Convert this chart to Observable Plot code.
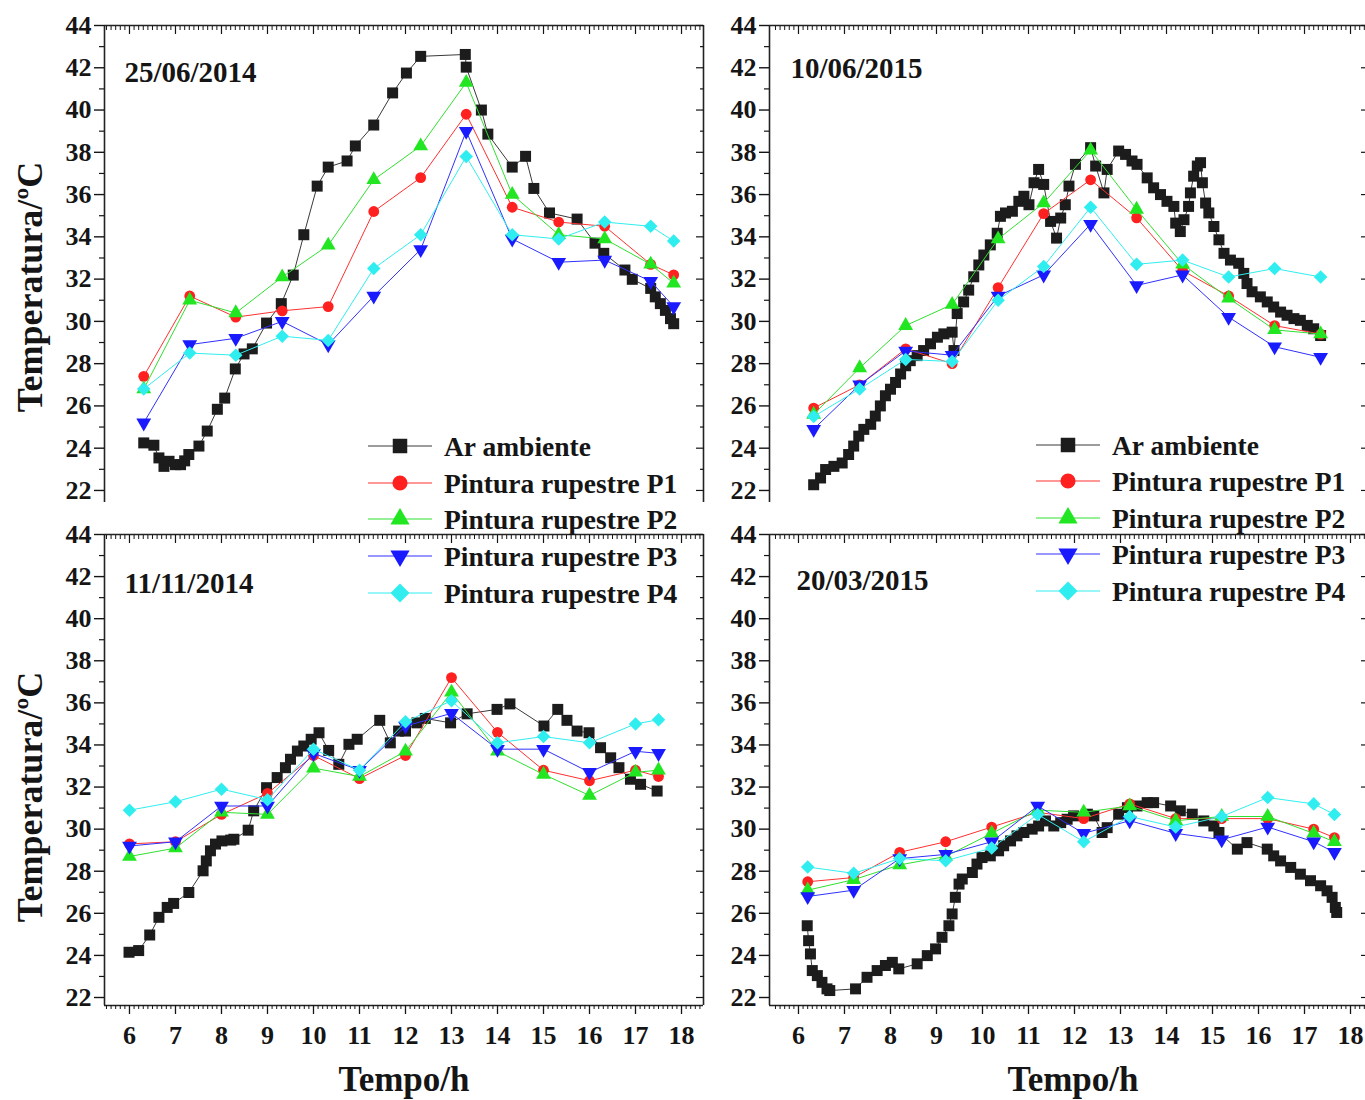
<!DOCTYPE html>
<html><head><meta charset="utf-8">
<script src="https://cdn.jsdelivr.net/npm/d3@7"></script>
<script src="https://cdn.jsdelivr.net/npm/@observablehq/plot@0.6"></script>
<style>
html,body{margin:0;padding:0;background:#fff}
#page{position:relative;width:1365px;height:1100px;overflow:hidden;background:#fff}
#page svg{position:absolute}
</style></head><body><div id="page"></div>
<script>
// ---------- DATA ----------
const seriesNames = ["Ar ambiente", "Pintura rupestre P1", "Pintura rupestre P2", "Pintura rupestre P3", "Pintura rupestre P4"];
const yTicks = [22, 24, 26, 28, 30, 32, 34, 36, 38, 40, 42, 44];
const xTicks = [6, 7, 8, 9, 10, 11, 12, 13, 14, 15, 16, 17, 18];

// 25/06/2014
const hours_20140625 = [6.31, 7.31, 8.31, 9.32, 10.32, 11.31, 12.33, 13.32, 14.32, 15.33, 16.33, 17.33, 17.83];
const p1_20140625 = [27.4, 31.2, 30.2, 30.5, 30.7, 35.2, 36.8, 39.8, 35.4, 34.7, 34.5, 32.7, 32.2];
const p2_20140625 = [26.8, 31.0, 30.4, 32.1, 33.6, 36.7, 38.3, 41.3, 36.0, 34.1, 33.9, 32.7, 31.8];
const p3_20140625 = [25.2, 28.9, 29.2, 30.0, 28.9, 31.2, 33.4, 39.0, 33.9, 32.8, 32.9, 31.9, 30.7];
const p4_20140625 = [26.8, 28.5, 28.4, 29.3, 29.1, 32.5, 34.1, 37.8, 34.1, 33.9, 34.7, 34.5, 33.8];
const ar_20140625 = [[6.31,24.25],[6.53,24.14],[6.64,23.54],[6.75,23.14],[6.86,23.38],[7.0,23.22],[7.11,23.22],[7.2,23.4],[7.29,23.70],[7.51,24.10],[7.69,24.81],[7.91,25.84],[8.07,26.37],[8.3,27.75],[8.49,28.46],[8.67,28.70],[8.98,29.92],[9.3,30.84],[9.56,32.19],[9.79,34.10],[10.08,36.40],[10.32,37.30],[10.73,37.59],[10.91,38.30],[11.31,39.29],[11.72,40.81],[12.02,41.75],[12.33,42.54],[13.3,42.63],[13.32,42.03],[13.65,40.0],[13.79,38.86],[14.32,37.30],[14.61,37.81],[14.79,36.29],[15.13,35.13],[15.73,34.84],[16.12,33.70],[16.31,33.22],[16.77,32.43],[16.93,31.99],[17.33,31.56],[17.43,31.16],[17.54,30.84],[17.65,30.52],[17.76,30.13],[17.83,29.89]];

// 10/06/2015
const hours_20150610 = [6.33, 7.33, 8.33, 9.34, 10.34, 11.33, 12.35, 13.35, 14.35, 15.35, 16.35, 17.35];
const p1_20150610 = [25.9, 27.0, 28.7, 28.0, 31.6, 35.1, 36.7, 34.9, 32.4, 31.2, 29.8, 29.4];
const p2_20150610 = [25.6, 27.8, 29.8, 30.8, 33.9, 35.6, 38.1, 35.3, 32.7, 31.1, 29.6, 29.4];
const p3_20150610 = [24.9, 27.0, 28.6, 28.4, 31.2, 32.2, 34.6, 31.7, 32.2, 30.2, 28.8, 28.3];
const p4_20150610 = [25.5, 26.8, 28.2, 28.1, 31.0, 32.6, 35.4, 32.7, 32.9, 32.1, 32.5, 32.1];
const ar_20150610 = [[6.33,22.27],[6.48,22.59],[6.59,22.99],[6.77,23.14],[6.95,23.30],[7.09,23.70],[7.20,24.10],[7.31,24.57],[7.42,24.89],[7.57,25.13],[7.67,25.52],[7.78,26.0],[7.89,26.48],[8.0,26.79],[8.11,27.11],[8.22,27.51],[8.33,27.90],[8.43,28.14],[8.58,28.38],[8.72,28.62],[8.87,28.94],[9.02,29.25],[9.16,29.41],[9.34,29.49],[9.38,28.62],[9.45,30.37],[9.59,30.92],[9.70,31.48],[9.81,32.11],[9.92,32.67],[10.03,33.14],[10.17,33.62],[10.32,34.17],[10.39,34.97],[10.50,35.13],[10.65,35.21],[10.79,35.68],[10.90,35.92],[11.01,35.52],[11.12,36.56],[11.22,37.19],[11.33,36.48],[11.48,34.73],[11.61,33.94],[11.70,34.89],[11.80,35.52],[11.88,36.40],[12.02,37.43],[12.35,38.22],[12.46,37.35],[12.64,36.08],[12.71,37.19],[12.96,38.06],[13.11,37.90],[13.25,37.59],[13.36,37.43],[13.58,36.79],[13.72,36.32],[13.87,36.0],[14.01,35.68],[14.16,35.44],[14.20,34.65],[14.30,34.25],[14.38,34.81],[14.48,35.44],[14.52,36.08],[14.59,36.87],[14.67,37.35],[14.74,37.51],[14.78,36.56],[14.85,35.60],[14.92,35.13],[15.03,34.49],[15.14,33.86],[15.25,33.22],[15.39,32.90],[15.57,32.75],[15.68,32.27],[15.75,31.79],[15.86,31.40],[16.04,31.16],[16.19,30.92],[16.33,30.68],[16.48,30.44],[16.62,30.29],[16.77,30.13],[16.91,30.05],[17.06,29.81],[17.20,29.65],[17.35,29.33]];

// 11/11/2014
const hours_20141111 = [6, 7, 8, 9, 10, 11, 12, 13, 14, 15, 16, 17, 17.5];
const p1_20141111 = [29.3, 29.4, 30.7, 31.7, 33.5, 32.4, 33.5, 37.2, 34.6, 32.8, 32.3, 32.8, 32.5];
const p2_20141111 = [28.7, 29.1, 30.8, 30.7, 32.9, 32.5, 33.7, 36.5, 33.7, 32.6, 31.6, 32.7, 32.8];
const p3_20141111 = [29.2, 29.4, 31.1, 31.1, 33.6, 32.8, 34.9, 35.5, 33.8, 33.8, 32.7, 33.7, 33.6];
const p4_20141111 = [30.9, 31.3, 31.9, 31.4, 33.8, 32.8, 35.1, 36.1, 34.1, 34.4, 34.1, 35.0, 35.2];
const ar_20141111 = [[5.99,24.15],[6.2,24.23],[6.44,24.97],[6.64,25.81],[6.82,26.28],[6.96,26.47],[7.29,26.99],[7.60,28.02],[7.67,28.49],[7.76,28.97],[7.87,29.29],[8.01,29.44],[8.20,29.48],[8.27,29.52],[8.58,29.95],[8.70,30.87],[8.98,31.97],[9.21,32.45],[9.39,32.92],[9.50,33.32],[9.65,33.71],[9.79,33.95],[9.95,34.27],[10.12,34.58],[10.33,33.74],[10.55,33.08],[10.77,34.03],[10.95,34.27],[11.44,35.17],[11.67,34.10],[11.85,34.66],[12.0,34.66],[12.25,35.05],[12.43,35.26],[12.98,35.05],[13.34,35.48],[13.99,35.69],[14.27,35.95],[15.01,34.90],[15.31,35.69],[15.51,35.17],[15.73,34.66],[15.99,34.58],[16.24,33.87],[16.46,33.39],[16.64,32.92],[16.89,32.37],[17.11,32.13],[17.47,31.81]];

// 20/03/2015
const hours_20150320 = [6.2, 7.2, 8.2, 9.2, 10.2, 11.2, 12.2, 13.2, 14.2, 15.2, 16.2, 17.2, 17.65];
const p1_20150320 = [27.5, 27.7, 28.9, 29.4, 30.1, 30.8, 30.5, 31.2, 30.5, 30.5, 30.5, 30.0, 29.6];
const p2_20150320 = [27.1, 27.6, 28.3, 28.7, 29.8, 30.9, 30.8, 31.1, 30.4, 30.6, 30.6, 29.8, 29.4];
const p3_20150320 = [26.8, 27.1, 28.6, 28.8, 29.4, 31.1, 29.8, 30.4, 29.8, 29.5, 30.1, 29.4, 28.9];
const p4_20150320 = [28.2, 27.9, 28.6, 28.5, 29.1, 30.7, 29.4, 30.6, 30.1, 30.6, 31.5, 31.2, 30.7];
const ar_20150320 = [[6.19,25.41],[6.22,24.70],[6.26,24.07],[6.30,23.28],[6.41,23.04],[6.51,22.72],[6.62,22.41],[6.68,22.33],[7.24,22.41],[7.49,22.96],[7.71,23.28],[7.89,23.52],[8.04,23.67],[8.18,23.36],[8.58,23.60],[8.80,23.99],[8.98,24.31],[9.12,24.86],[9.27,25.41],[9.34,25.97],[9.41,26.76],[9.49,27.39],[9.56,27.63],[9.78,27.94],[9.88,28.34],[9.99,28.65],[10.17,28.73],[10.35,28.97],[10.46,29.21],[10.61,29.44],[10.75,29.68],[10.90,29.84],[11.08,30.0],[11.22,30.15],[11.37,30.39],[11.55,30.15],[11.70,30.31],[11.84,30.47],[11.98,30.63],[12.28,30.71],[12.42,30.63],[12.60,29.84],[12.71,30.07],[12.96,30.71],[13.15,31.02],[13.36,31.10],[13.58,31.26],[13.72,31.26],[14.09,31.10],[14.30,30.87],[14.56,30.71],[14.81,30.39],[15.03,30.15],[15.14,29.84],[15.54,29.05],[15.75,29.36],[16.19,29.05],[16.33,28.73],[16.48,28.49],[16.70,28.18],[16.91,27.86],[17.13,27.55],[17.35,27.31],[17.49,27.07],[17.60,26.76],[17.67,26.28],[17.70,26.04]];

// ---------- STYLE / LAYOUT ----------
const triangleDown = {
  draw(ctx, size) {
    const y = -Math.sqrt(size / (Math.sqrt(3) * 3));
    ctx.moveTo(0, -2 * y);
    ctx.lineTo(-Math.sqrt(3) * y, y);
    ctx.lineTo(Math.sqrt(3) * y, y);
    ctx.closePath();
  }
};
const styles = [
  {symbol: d3.symbolSquare, fill: "#1c1c1c", line: "#3a3a3a", r: 6.2, legendSize: 210},
  {symbol: d3.symbolCircle, fill: "#ff2020", line: "#ff3030", r: 5.4, legendSize: 180},
  {symbol: d3.symbolTriangle, fill: "#22e622", line: "#30e030", r: 5.5, legendSize: 160},
  {symbol: triangleDown, fill: "#1a1aff", line: "#3030ff", r: 5.5, legendSize: 160},
  {symbol: d3.symbolDiamond2, fill: "#30eef0", line: "#30eef0", r: 6.1, legendSize: 230}
];
const FONT = "'Liberation Serif', 'Times New Roman', serif";
const INK = "#151515";

const panels = [
  {title: "25/06/2014", ar: ar_20140625, hours: hours_20140625, ps: [p1_20140625, p2_20140625, p3_20140625, p4_20140625],
   left: 0, top: 0, width: 740, height: 520, mL: 104, mR: 37, mT: 25, mB: 18,
   xDom: [5.457, 18.478], yDom: [21.43, 44], upper: true, yLabel: true, yLabelDy: 23, titleDx: 20, titleDy: 47},
  {title: "10/06/2015", ar: ar_20150610, hours: hours_20150610, ps: [p1_20150610, p2_20150610, p3_20150610, p4_20150610],
   left: 700, top: 0, width: 670, height: 520, mL: 69, mR: 2, mT: 25, mB: 18,
   xDom: [5.37, 18.391], yDom: [21.43, 44], upper: true, yLabel: false, titleDx: 21, titleDy: 43},
  {title: "11/11/2014", ar: ar_20141111, hours: hours_20141111, ps: [p1_20141111, p2_20141111, p3_20141111, p4_20141111],
   left: 0, top: 510, width: 740, height: 590, mL: 104, mR: 37, mT: 24, mB: 95,
   xDom: [5.457, 18.478], yDom: [21.62, 44], upper: false, yLabel: true, yLabelDy: 27, titleDx: 20, titleDy: 49, xLabelDx: 0},
  {title: "20/03/2015", ar: ar_20150320, hours: hours_20150320, ps: [p1_20150320, p2_20150320, p3_20150320, p4_20150320],
   left: 700, top: 510, width: 670, height: 590, mL: 69, mR: 2, mT: 24, mB: 95,
   xDom: [5.37, 18.391], yDom: [21.62, 44], upper: false, yLabel: false, titleDx: 27, titleDy: 46, xLabelDx: 4}
];

const yMinor = d3.range(23, 44, 2);
const xMinor = d3.range(55, 185).filter(i => i % 10 !== 0).map(i => i / 10);
const blank = () => "";

const page = document.getElementById("page");

for (const p of panels) {
  const marks = [];
  const frameStyle = {stroke: "#222", strokeWidth: 1.6};
  marks.push(Plot.ruleX([p.xDom[0]], frameStyle));
  marks.push(Plot.ruleX([p.xDom[1]], frameStyle));
  marks.push(Plot.ruleY([p.yDom[1]], frameStyle));
  if (!p.upper) marks.push(Plot.ruleY([p.yDom[0]], frameStyle));
  marks.push(Plot.axisY(yTicks, {anchor: "left", tickSize: 10, tickPadding: 3, label: null, fontSize: 26, fontWeight: "bold", strokeWidth: 1.4}));
  marks.push(Plot.axisY(yMinor, {anchor: "left", tickSize: 5, tickFormat: blank, label: null, strokeWidth: 1.2}));
  marks.push(Plot.axisY(yTicks, {anchor: "right", tickSize: 8, dx: -8, tickFormat: blank, label: null, strokeWidth: 1.2}));
  marks.push(Plot.axisY(yMinor, {anchor: "right", tickSize: 4, dx: -4, tickFormat: blank, label: null, strokeWidth: 1.2}));
  marks.push(Plot.axisX(xTicks, {anchor: "top", tickSize: 8, dy: 8, tickFormat: blank, label: null, strokeWidth: 1.2}));
  marks.push(Plot.axisX(xMinor, {anchor: "top", tickSize: 4, dy: 4, tickFormat: blank, label: null, strokeWidth: 1}));
  if (!p.upper) {
    marks.push(Plot.axisX(xTicks, {anchor: "bottom", tickSize: 9, tickPadding: 11, label: null, fontSize: 26, fontWeight: "bold", strokeWidth: 1.3}));
    marks.push(Plot.axisX(xMinor, {anchor: "bottom", tickSize: 4, tickFormat: blank, label: null, strokeWidth: 1}));
    marks.push(Plot.text(["Tempo/h"], {frameAnchor: "bottom", dy: 74, dx: p.xLabelDx, fontSize: 35, fontWeight: "bold", lineAnchor: "middle", fill: INK}));
  }
  if (p.yLabel) {
    marks.push(Plot.text(["Temperatura/ºC"], {frameAnchor: "left", rotate: -90, dx: -74, dy: p.yLabelDy, fontSize: 36, fontWeight: "bold", lineAnchor: "middle", textAnchor: "middle", fill: INK}));
  }
  marks.push(Plot.text([p.title], {frameAnchor: "top-left", dx: p.titleDx, dy: p.titleDy, fontSize: 29, fontWeight: "bold", textAnchor: "start", lineAnchor: "middle", fill: INK}));

  const s0 = styles[0];
  marks.push(Plot.line(p.ar, {x: d => d[0], y: d => d[1], stroke: s0.line, strokeWidth: 1}));
  marks.push(Plot.dot(p.ar, {x: d => d[0], y: d => d[1], symbol: s0.symbol, r: s0.r, fill: s0.fill, stroke: "none"}));
  p.ps.forEach((vals, k) => {
    const s = styles[k + 1];
    const data = p.hours.map((h, i) => ({h, t: vals[i]}));
    marks.push(Plot.line(data, {x: "h", y: "t", stroke: s.line, strokeWidth: 1}));
    marks.push(Plot.dot(data, {x: "h", y: "t", symbol: s.symbol, r: s.r, fill: s.fill, stroke: "none"}));
  });

  const chart = Plot.plot({
    width: p.width, height: p.height,
    marginLeft: p.mL, marginRight: p.mR, marginTop: p.mT, marginBottom: p.mB,
    x: {domain: p.xDom},
    y: {domain: p.yDom},
    style: {background: "none", fontFamily: FONT, fontWeight: "bold", fontSize: "26px", color: INK, overflow: "visible"},
    marks
  });
  chart.style.left = p.left + "px";
  chart.style.top = p.top + "px";
  chart.style.maxWidth = "none";
  page.appendChild(chart);
}

// ---------- LEGENDS ----------
const legendBlocks = [
  {lineX: [368, 432], markX: 400, textX: 444, ys: [446, 483, 519, 556, 593]},
  {lineX: [1036, 1100], markX: 1068, textX: 1112, ys: [445, 481, 518, 554, 591]}
];
const lsvg = d3.create("svg").attr("width", 1365).attr("height", 1100)
  .style("left", "0px").style("top", "0px").style("pointer-events", "none");
for (const b of legendBlocks) {
  seriesNames.forEach((name, i) => {
    const s = styles[i];
    const y = b.ys[i];
    lsvg.append("line").attr("x1", b.lineX[0]).attr("x2", b.lineX[1]).attr("y1", y).attr("y2", y)
      .attr("stroke", s.line).attr("stroke-width", 1.2);
    lsvg.append("path").attr("d", d3.symbol(s.symbol, s.legendSize)()).attr("transform", `translate(${b.markX},${y})`)
      .attr("fill", s.fill);
    lsvg.append("text").attr("x", b.textX).attr("y", y).attr("dy", "0.35em")
      .attr("font-family", FONT).attr("font-weight", "bold").attr("font-size", 27.5).attr("fill", INK)
      .text(name);
  });
}
page.appendChild(lsvg.node());
</script></body></html>
